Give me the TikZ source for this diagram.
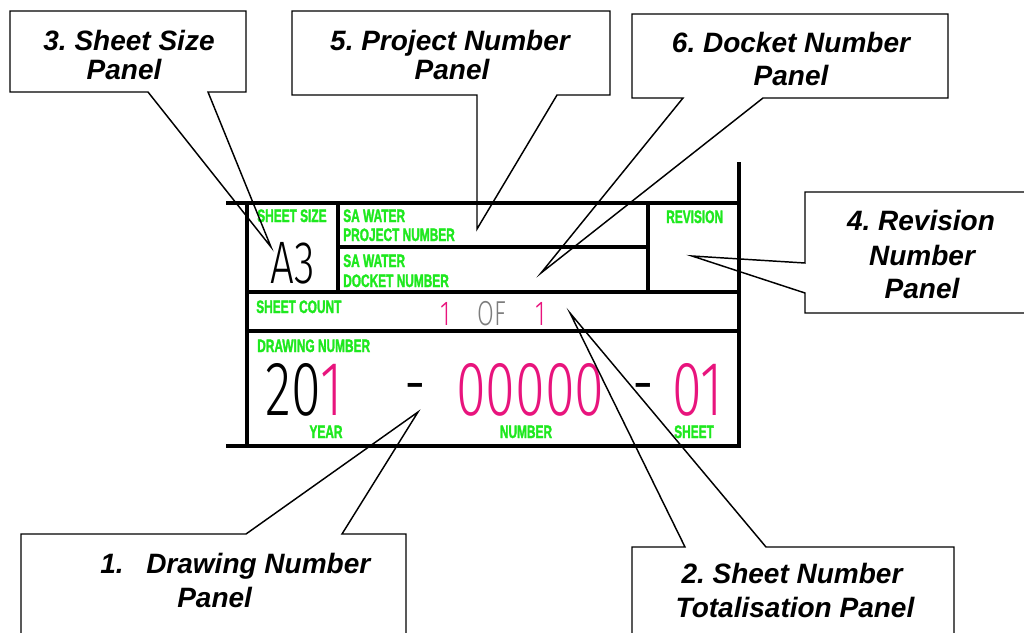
\documentclass[tikz,border=0pt]{standalone}
\usepackage{fontspec}
\setmainfont{Liberation Sans}
\newfontfamily\cadfont[FakeStretch=0.66,FakeBold=1.6]{Liberation Sans}
\newfontfamily\cadthin[UprightFont=* Light,FakeStretch=0.70]{Fira Sans}
\usepackage{xcolor}
\definecolor{cadgreen}{RGB}{30,232,30}
\definecolor{cadpink}{RGB}{232,20,125}
\definecolor{cadgrey}{RGB}{125,125,125}
\frenchspacing

\begin{document}
\begin{tikzpicture}[
  x=0.75pt, y=-0.75pt,
  frame/.style   = {line width=2.3pt, line cap=rect},
  callout/.style = {line width=1.1pt, line join=miter},
  note/.style    = {anchor=base, inner sep=0pt,
                    font=\fontsize{21}{25}\selectfont\bfseries\itshape},
  lbl/.style     = {anchor=base west, inner sep=0pt, text=cadgreen,
                    font=\cadfont\bfseries\fontsize{13.5}{14}\selectfont},
  big/.style     = {anchor=base west, inner sep=0pt,
                    font=\cadthin\fontsize{57.75}{60}\selectfont}
]
\useasboundingbox (0,0) rectangle (1024,632);
\clip (0,0) rectangle (1024,632);
%% Title block frame
\draw[frame] (228,203)--(739,203); \draw[frame] (228,446)--(739,446);
\draw[frame] (739,164)--(739,446); \draw[frame] (247,203)--(247,446);
\draw[frame] (338,203)--(338,292); \draw[frame] (648,203)--(648,292);
\draw[frame] (338,247)--(648,247);
\draw[frame] (247,292)--(739,292); \draw[frame] (247,331)--(739,331);
%% Field labels
\foreach \nm/\px/\py/\tx in {ssz/257/222/SHEET SIZE, pj1/343/222/SA WATER,
    pj2/343/241/PROJECT NUMBER, dk1/343/267/SA WATER, dk2/343/287/DOCKET NUMBER,
    rev/666/223/REVISION, cnt/256/313/SHEET COUNT, dwg/257/352/DRAWING NUMBER}{
  \node[lbl] (\nm) at (\px,\py) {\tx};}
\foreach \nm/\px/\tx in {yrl/326/YEAR, nml/526/NUMBER, shl/694/SHEET}{
  \node[lbl,anchor=base] (\nm) at (\px,438) {\tx};}
%% Field values
\node[big,anchor=base,font=\cadthin\fontsize{45}{47}\selectfont] (siz) at (293,283) {A3};
\node[big,font=\cadthin\fontsize{26}{28}\selectfont,text=cadpink] (cn1) at (440,325) {1};
\node[big,font=\cadthin\fontsize{26}{28}\selectfont,text=cadgrey] (cof) at (477,325) {OF};
\node[big,font=\cadthin\fontsize{26}{28}\selectfont,text=cadpink] (cn2) at (535,325) {1};
\node[big] (yr)  at (265,415) {20\textcolor{cadpink}{1}};
\node[big] (ds1) at (404,409) {-};
\node[big,text=cadpink] (num) at (456,415) {00000};
\node[big] (ds2) at (632,409) {-};
\node[big,text=cadpink] (sht) at (672,415) {01};
%% Callouts
\draw[callout] (10,11)--(246,11)--(246,92)--(208,92)--(271,247)--(148,92)--(10,92)--cycle;
\draw[callout] (292,11)--(610,11)--(610,95)--(557,95)--(477,229)--(477,95)--(292,95)--cycle;
\draw[callout] (632,14)--(948,14)--(948,98)--(763,98)--(541,273)--(683,98)--(632,98)--cycle;
\draw[callout] (805,192)--(1040,192)--(1040,313)--(805,313)--(805,293)--(692,256)--(805,263)--cycle;
\draw[callout] (21,650)--(21,534)--(246,534)--(418,412)--(342,534)--(406,534)--(406,650);
\draw[callout] (632,650)--(632,547)--(685,547)--(570,313)--(766,547)--(954,547)--(954,650);
%% Callout texts
\foreach \nm/\px/\py/\tx in {c3a/129/50/3. Sheet Size, c3b/124/79/Panel,
    c5a/450/50/5. Project Number, c5b/452/79/Panel,
    c6a/791/52/6. Docket Number, c6b/791/85/Panel,
    c4a/921/230/4. Revision, c4b/922/265/Number, c4c/922/298/Panel,
    c2a/792/583/2. Sheet Number, c2b/795/617/Totalisation Panel}{
  \node[note] (\nm) at (\px,\py) {\tx};}
\node[note,anchor=base west] (c1n) at (100,573) {1.};
\node[note,anchor=base west] (c1a) at (146,573) {Drawing Number};
\node[note,anchor=base west] (c1b) at (177,607) {Panel};
\end{tikzpicture}
\end{document}
